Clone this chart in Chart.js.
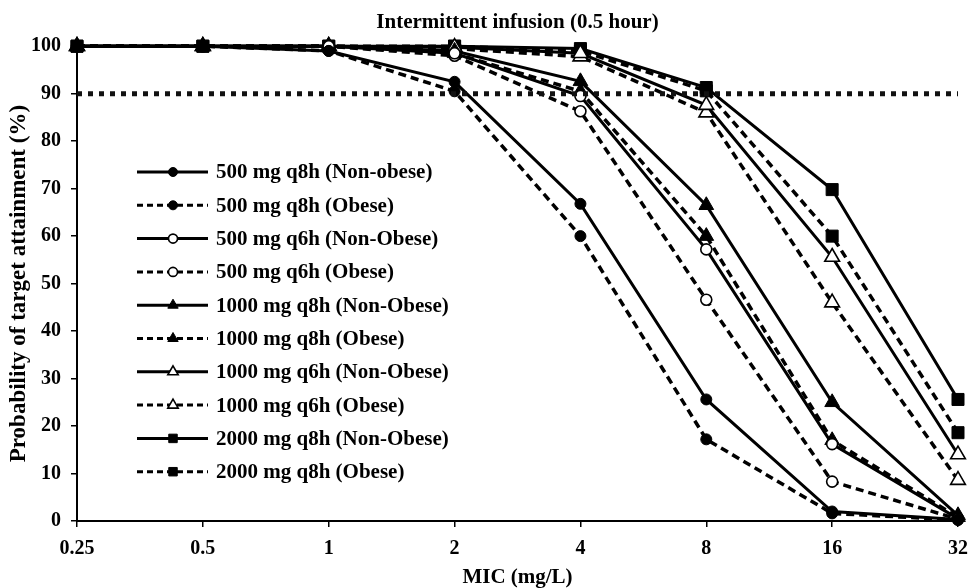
<!DOCTYPE html>
<html lang="en">
<head>
    <meta charset="UTF-8">
    <title>Intermittent infusion (0.5 hour)</title>
    <script src="https://cdn.jsdelivr.net/npm/chart.js"></script>
    <style>
        body { margin: 0; background: #fff; }
        #wrap { width: 970px; height: 588px; }
    </style>
</head>
<body>
<div id="wrap"><canvas id="ptaChart" width="970" height="588"></canvas></div>

<script>
    // MIC values (mg/L) along the x axis
    const micLabels = ['0.25', '0.5', '1', '2', '4', '8', '16', '32'];

    // probability of target attainment (%) per regimen
    const q8h500NonObese  = [100, 100, 99,  92.5, 66.8, 25.6, 2.0,  0.3];
    const q8h500Obese     = [100, 100, 99,  90.5, 60.0, 17.2, 1.6,  0.2];
    const q6h500NonObese  = [100, 100, 100, 98.5, 89.5, 57.2, 16.2, 0.5];
    const q6h500Obese     = [100, 100, 100, 98.0, 86.3, 46.6, 8.3,  0.4];
    const q8h1000NonObese = [100, 100, 100, 99.0, 92.6, 66.5, 25.0, 1.2];
    const q8h1000Obese    = [100, 100, 100, 98.5, 90.5, 60.0, 17.0, 0.8];
    const q6h1000NonObese = [100, 100, 100, 99.8, 98.5, 87.6, 55.6, 14.0];
    const q6h1000Obese    = [100, 100, 100, 99.5, 97.8, 86.0, 46.0, 8.6];
    const q8h2000NonObese = [100, 100, 100, 100,  99.5, 91.3, 69.8, 25.6];
    const q8h2000Obese    = [100, 100, 100, 100,  99.0, 90.6, 60.0, 18.6];

    // 90% target line
    const targetLine = [90, 90, 90, 90, 90, 90, 90, 90];

    const seriesNames = [
        '500 mg q8h (Non-obese)', '500 mg q8h (Obese)',
        '500 mg q6h (Non-Obese)', '500 mg q6h (Obese)',
        '1000 mg q8h (Non-Obese)', '1000 mg q8h (Obese)',
        '1000 mg q6h (Non-Obese)', '1000 mg q6h (Obese)',
        '2000 mg q8h (Non-Obese)', '2000 mg q8h (Obese)'
    ];

    const serif = "'Liberation Serif', 'Times New Roman', serif";
    const DASH = [8, 5];

    function series(label, data, style, open, dashed) {
        const r = style === 'circle' ? 5.5 : 8.5;
        return {
            label: label,
            data: data,
            borderColor: '#000',
            borderWidth: dashed ? 3.5 : 3,
            borderDash: dashed ? DASH : [],
            pointStyle: style,
            pointRadius: r,
            pointHoverRadius: r,
            pointBackgroundColor: open ? '#fff' : '#000',
            pointBorderColor: '#000',
            pointBorderWidth: open ? 1.6 : 1,
            tension: 0,
            clip: false,
            fill: false,
            dashedKey: dashed
        };
    }

    // legend drawn inside the plot area, line sample with marker in the middle
    const insideLegend = {
        id: 'insideLegend',
        afterDatasetsDraw(chart) {
            const ctx = chart.ctx;
            const x0 = 137, y0 = 172, step = 33.3, len = 71;
            const items = chart.data.datasets.filter(d => d.label && d.showInKey !== false);
            ctx.save();
            items.forEach((d, i) => {
                const y = y0 + i * step;
                ctx.strokeStyle = '#000';
                ctx.lineWidth = 3;
                ctx.setLineDash(d.dashedKey ? [6, 4] : []);
                ctx.beginPath();
                ctx.moveTo(x0, y);
                ctx.lineTo(x0 + len, y);
                ctx.stroke();
                ctx.setLineDash([]);
                ctx.fillStyle = d.pointBackgroundColor;
                ctx.strokeStyle = '#000';
                ctx.lineWidth = d.pointBorderWidth;
                Chart.helpers.drawPoint(ctx, {
                    pointStyle: d.pointStyle,
                    radius: d.pointStyle === 'circle' ? 4.5 : 6,
                    rotation: 0,
                    borderWidth: d.pointBorderWidth
                }, x0 + 36, y);
                ctx.fillStyle = '#000';
                ctx.font = 'bold 21px ' + serif;
                ctx.textAlign = 'left';
                ctx.textBaseline = 'middle';
                ctx.fillText(d.label, x0 + 79, y + 1);
            });
            ctx.restore();
        }
    };

    const datasets = [
        {
            label: '',
            data: targetLine,
            borderColor: '#111',
            borderWidth: 5,
            borderDash: [5, 6],
            pointRadius: 0,
            pointHoverRadius: 0,
            showInKey: false,
            clip: false
        },
        series(seriesNames[0], q8h500NonObese, 'circle', false, false),
        series(seriesNames[1], q8h500Obese, 'circle', false, true),
        series(seriesNames[2], q6h500NonObese, 'circle', true, false),
        series(seriesNames[3], q6h500Obese, 'circle', true, true),
        series(seriesNames[4], q8h1000NonObese, 'triangle', false, false),
        series(seriesNames[5], q8h1000Obese, 'triangle', false, true),
        series(seriesNames[6], q6h1000NonObese, 'triangle', true, false),
        series(seriesNames[7], q6h1000Obese, 'triangle', true, true),
        series(seriesNames[8], q8h2000NonObese, 'rect', false, false),
        series(seriesNames[9], q8h2000Obese, 'rect', false, true)
    ];

    new Chart(document.getElementById('ptaChart'), {
        type: 'line',
        data: { labels: micLabels, datasets: datasets },
        plugins: [insideLegend],
        options: {
            responsive: false,
            devicePixelRatio: 1,
            animation: false,
            events: [],
            layout: { padding: { left: 0, right: 12, top: 0, bottom: 0 } },
            scales: {
                x: {
                    type: 'category',
                    offset: false,
                    afterFit: s => { s.height = 67; s.paddingRight = 0; s.paddingLeft = 0; },
                    grid: { drawOnChartArea: false, drawTicks: true, tickLength: 6, tickColor: '#000', lineWidth: 1.5 },
                    border: { display: true, color: '#000', width: 2 },
                    ticks: { color: '#000', padding: 10, maxRotation: 0, font: { family: serif, size: 20, weight: 'bold' } },
                    title: {
                        display: true,
                        text: 'MIC (mg/L)',
                        color: '#000',
                        padding: { top: 0, bottom: -2 },
                        font: { family: serif, size: 21, weight: 'bold' }
                    }
                },
                y: {
                    min: 0,
                    max: 100,
                    afterFit: s => { s.width = 77; },
                    grid: { drawOnChartArea: false, drawTicks: true, tickLength: 6, tickColor: '#000', lineWidth: 1.5 },
                    border: { display: true, color: '#000', width: 2 },
                    ticks: { stepSize: 10, color: '#000', padding: 10, font: { family: serif, size: 20, weight: 'bold' } },
                    title: {
                        display: true,
                        text: 'Probability of target attainment (%)',
                        color: '#000',
                        padding: { top: 5, bottom: 0 },
                        font: { family: serif, size: 23, weight: 'bold' }
                    }
                }
            },
            plugins: {
                legend: { display: false },
                tooltip: { enabled: false },
                title: {
                    display: true,
                    fullSize: false,
                    text: 'Intermittent infusion (0.5 hour)',
                    color: '#000',
                    padding: { top: 10, bottom: 11 },
                    font: { family: serif, size: 21, weight: 'bold' }
                }
            }
        }
    });
</script>
</body>
</html>
